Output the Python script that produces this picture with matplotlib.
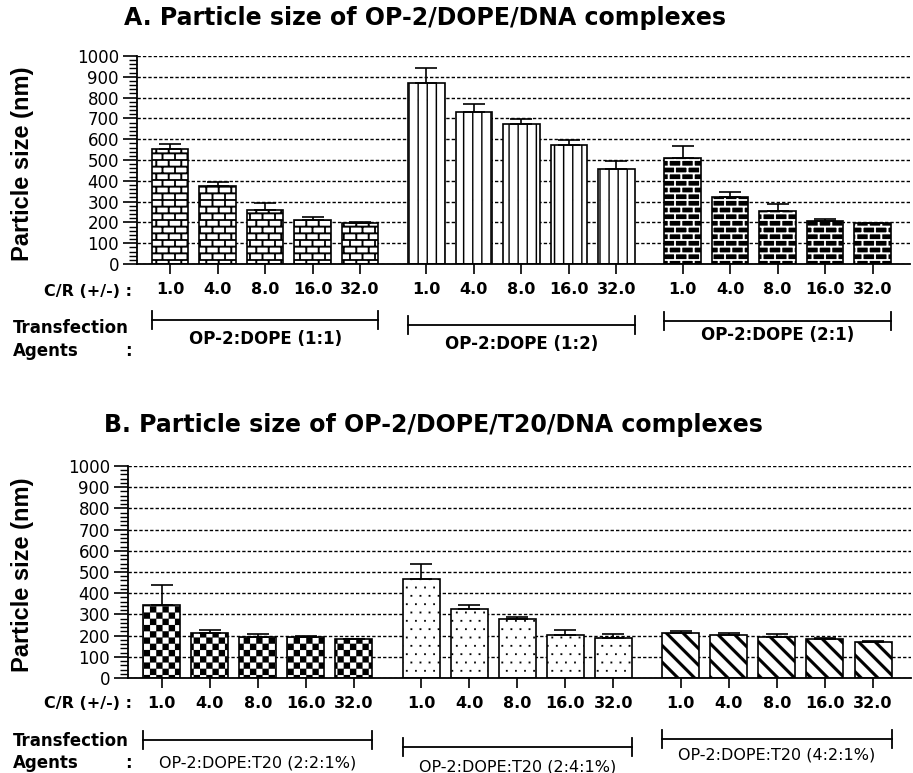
import warnings

import matplotlib
matplotlib.use("Agg")
import matplotlib.hatch as mhatch
import matplotlib.pyplot as plt
import numpy as np
from matplotlib import transforms
from matplotlib.path import Path
from matplotlib.ticker import MultipleLocator

warnings.filterwarnings("ignore", message=".*hatch must consist.*")

# ---- data -----------------------------------------------------------------
CR_LABELS = ["1.0", "4.0", "8.0", "16.0", "32.0"]

A_AGENTS = ["OP-2:DOPE (1:1)", "OP-2:DOPE (1:2)", "OP-2:DOPE (2:1)"]
A_11_MEAN = [551, 375, 260, 212, 196]
A_11_SD = [25, 21, 32, 16, 8]
A_12_MEAN = [872, 731, 672, 572, 457]
A_12_SD = [72, 38, 24, 24, 40]
A_21_MEAN = [508, 324, 256, 207, 196]
A_21_SD = [59, 21, 32, 8, 3]

B_AGENTS = ["OP-2:DOPE:T20 (2:2:1%)", "OP-2:DOPE:T20 (2:4:1%)", "OP-2:DOPE:T20 (4:2:1%)"]
B_221_MEAN = [346, 214, 195, 195, 183]
B_221_SD = [93, 12, 14, 2, 2]
B_241_MEAN = [466, 325, 280, 201, 190]
B_241_SD = [73, 19, 10, 25, 19]
B_421_MEAN = [212, 201, 193, 185, 170]
B_421_SD = [11, 11, 13, 3, 6]

# ---- layout -----------------------------------------------------------------
W, H = 913, 773
GROUP_OFFSETS = [0.0, 5.4, 10.8]
BAR_W = 0.77
XLIM = (-0.7, 15.59)


def fx(px):
    return px / W


def fy(py):
    return 1.0 - py / H


# ---- custom fill patterns, registered as hatches ---------------------------
def _box(x0, y0, x1, y1):
    return [(x0, y0), (x1, y0), (x1, y1), (x0, y1)]


class _PolyHatch(mhatch.HatchPatternBase):
    key = "?"

    def __init__(self, hatch, density):
        self.polys = self.build() if (hatch and self.key in hatch) else []
        self.num_vertices = 5 * len(self.polys)

    def build(self):
        return []

    def set_vertices_and_codes(self, vertices, codes):
        for i, poly in enumerate(self.polys):
            vertices[5 * i:5 * i + 4] = poly
            vertices[5 * i + 4] = poly[0]
            codes[5 * i] = Path.MOVETO
            codes[5 * i + 1:5 * i + 4] = Path.LINETO
            codes[5 * i + 4] = Path.CLOSEPOLY


class BrickHatch(_PolyHatch):
    key = "B"

    def build(self):
        rows, cols, t = 15, 8, 0.018
        polys = [_box(0, r / rows - t / 2, 1, r / rows + t / 2) for r in range(rows + 1)]
        for r in range(rows):
            off = 0.5 * (r % 2)
            for c in range(cols + 1):
                x = (c + off) / cols
                polys.append(_box(x - t / 2, r / rows, x + t / 2, (r + 1) / rows))
        return polys


class VLineHatch(_PolyHatch):
    key = "V"

    def build(self):
        n, t = 11, 0.013
        return [_box(c / n - t / 2, 0, c / n + t / 2, 1) for c in range(n + 1)]


class CheckerHatch(_PolyHatch):
    key = "C"

    def build(self):
        n = 16
        return [_box(i / n, j / n, (i + 1) / n, (j + 1) / n)
                for i in range(n) for j in range(n) if (i + j) % 2 == 0]


class DotHatch(_PolyHatch):
    key = "D"

    def build(self):
        nx, ny, d = 11, 12, 0.0085
        polys = []
        for j in range(ny):
            for i in range(nx):
                x = (i + 0.5 * (j % 2) + 0.25) / nx
                y = (j + 0.5) / ny
                polys.append(_box(x - d, y - d, x + d, y + d))
        return polys


class StripeHatch(_PolyHatch):
    key = "S"

    def build(self):
        n, w = 6, 0.021
        return [[(k / n - w, 1), (k / n + w, 1), (k / n + w + 1, 0), (k / n - w + 1, 0)]
                for k in range(-n, n + 1)]


mhatch._hatch_types.extend([BrickHatch, VLineHatch, CheckerHatch, DotHatch, StripeHatch])
plt.rcParams["hatch.linewidth"] = 0.1
plt.rcParams["font.family"] = "DejaVu Sans"


def draw_bars(ax, means, sds, hatches, inverted):
    for g, (mean, sd) in enumerate(zip(means, sds)):
        x = GROUP_OFFSETS[g] + np.arange(len(mean))
        if inverted[g]:
            ax.bar(x, mean, BAR_W, color="black", edgecolor="white",
                   hatch=hatches[g], linewidth=0, zorder=2)
            ax.bar(x, mean, BAR_W, facecolor="none", edgecolor="black",
                   linewidth=1.2, zorder=3)
        else:
            ax.bar(x, mean, BAR_W, color="white", edgecolor="black",
                   hatch=hatches[g], linewidth=1.2, zorder=2)
        ax.errorbar(x, mean, yerr=[np.zeros(len(sd)), sd], fmt="none",
                    ecolor="black", elinewidth=1.2, capsize=8, capthick=1.2,
                    zorder=4)


def style_axis(ax):
    ax.set_xlim(*XLIM)
    ax.set_ylim(0, 1000)
    ax.yaxis.set_major_locator(MultipleLocator(100))
    ax.yaxis.set_minor_locator(MultipleLocator(20))
    ax.set_axisbelow(True)
    ax.yaxis.grid(True, which="major", color="black",
                  linestyle=(0, (2.4, 1.5)), linewidth=1.0)
    for side in ("top", "right"):
        ax.spines[side].set_visible(False)
    for side in ("left", "bottom"):
        ax.spines[side].set_linewidth(1.3)
    ax.tick_params(axis="y", which="major", direction="out", length=10,
                   width=1.2, labelsize=12, pad=3)
    ax.tick_params(axis="y", which="minor", direction="out", length=6, width=1.0)
    positions = np.concatenate([off + np.arange(len(CR_LABELS)) for off in GROUP_OFFSETS])
    ax.set_xticks(positions, CR_LABELS * len(GROUP_OFFSETS))
    ax.tick_params(axis="x", direction="out", length=7, width=1.2,
                   labelsize=11.5, pad=6)
    for lab in ax.get_xticklabels():
        lab.set_fontweight("bold")


def draw_agents(fig, ax, agents, bracket_y, label_y, label_kw):
    tr = transforms.blended_transform_factory(ax.transData, fig.transFigure)
    n = len(CR_LABELS)
    for g, name in enumerate(agents):
        x0 = GROUP_OFFSETS[g] - BAR_W / 2
        x1 = GROUP_OFFSETS[g] + n - 1 + BAR_W / 2
        y = fy(bracket_y[g])
        h = 9 / H
        kw = dict(transform=tr, color="black", lw=1.3, clip_on=False)
        ax.plot([x0, x1], [y, y], **kw)
        ax.plot([x0, x0], [y - h, y + h], **kw)
        ax.plot([x1, x1], [y - h, y + h], **kw)
        ax.text((x0 + x1) / 2, fy(label_y[g]), name, transform=tr,
                ha="center", va="baseline", **label_kw)


fig = plt.figure(figsize=(W / 100, H / 100), dpi=100)

# ---- panel A ----------------------------------------------------------------
axA = fig.add_axes([fx(137), fy(264), fx(910) - fx(137), fy(56) - fy(264)])
draw_bars(axA, [A_11_MEAN, A_12_MEAN, A_21_MEAN], [A_11_SD, A_12_SD, A_21_SD],
          ["B", "V", "B"], [False, False, True])
style_axis(axA)
fig.text(fx(425), fy(25), "A. Particle size of OP-2/DOPE/DNA complexes",
         ha="center", va="baseline", fontsize=17, fontweight="bold")
fig.text(fx(22), fy(164), "Particle size (nm)", rotation=90, ha="center",
         va="center", fontsize=17, fontweight="bold", family="Liberation Sans")
fig.text(fx(132), fy(296), "C/R (+/-) :", ha="right", va="baseline",
         fontsize=11.5, fontweight="bold")
fig.text(fx(13), fy(333), "Transfection", ha="left", va="baseline",
         fontsize=12, fontweight="bold")
fig.text(fx(13), fy(356), "Agents", ha="left", va="baseline",
         fontsize=12, fontweight="bold")
fig.text(fx(128), fy(356), ":", ha="center", va="baseline",
         fontsize=12, fontweight="bold")
draw_agents(fig, axA, A_AGENTS, [320, 325, 321], [344, 349, 340],
            dict(fontsize=12, fontweight="bold"))

# ---- panel B ----------------------------------------------------------------
axB = fig.add_axes([fx(128), fy(678), fx(911) - fx(128), fy(466) - fy(678)])
draw_bars(axB, [B_221_MEAN, B_241_MEAN, B_421_MEAN], [B_221_SD, B_241_SD, B_421_SD],
          ["C", "D", "S"], [False, False, False])
style_axis(axB)
fig.text(fx(433), fy(432), "B. Particle size of OP-2/DOPE/T20/DNA complexes",
         ha="center", va="baseline", fontsize=17, fontweight="bold")
fig.text(fx(22), fy(575), "Particle size (nm)", rotation=90, ha="center",
         va="center", fontsize=17, fontweight="bold", family="Liberation Sans")
fig.text(fx(132), fy(708), "C/R (+/-) :", ha="right", va="baseline",
         fontsize=11.5, fontweight="bold")
fig.text(fx(13), fy(746), "Transfection", ha="left", va="baseline",
         fontsize=12, fontweight="bold")
fig.text(fx(13), fy(768), "Agents", ha="left", va="baseline",
         fontsize=12, fontweight="bold")
fig.text(fx(128), fy(768), ":", ha="center", va="baseline",
         fontsize=12, fontweight="bold")
draw_agents(fig, axB, B_AGENTS, [740, 747, 739], [768, 771, 760],
            dict(fontsize=11.5))

fig.savefig("out.png", dpi=100)
